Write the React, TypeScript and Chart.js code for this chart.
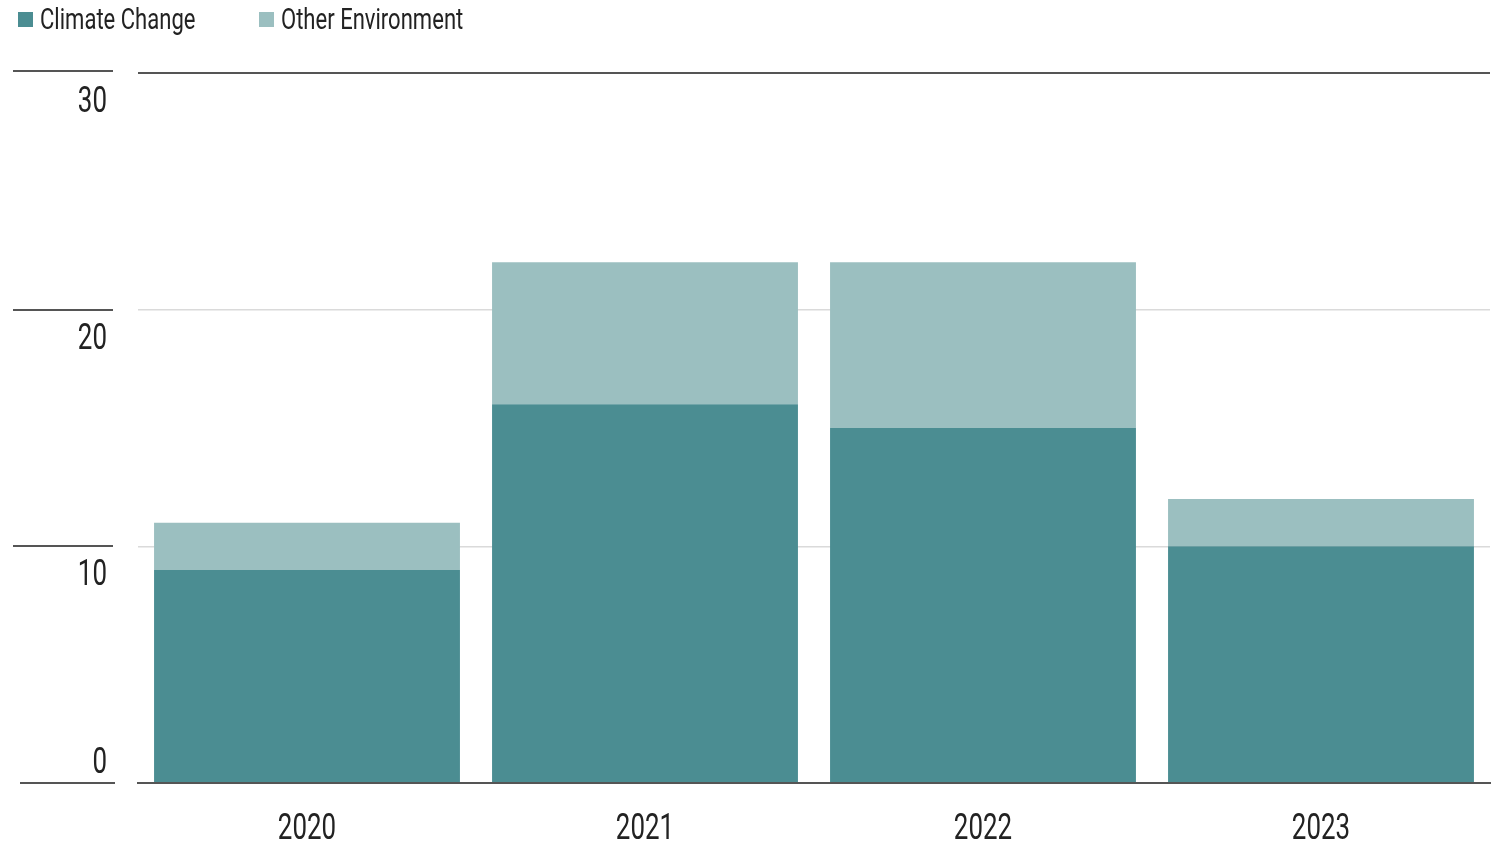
import React, { useEffect, useRef } from "react";
import { Chart, registerables } from "chart.js";

Chart.register(...registerables);

const categories = ["2020", "2021", "2022", "2023"];
const climateChange = [9, 16, 15, 10];
const otherEnvironment = [2, 6, 7, 2];
const yTicks = [0, 10, 20, 30];
const seriesNames = ["Climate Change", "Other Environment"];

const FONT = 'Roboto, "DejaVu Sans Condensed", sans-serif';
const DARK = "#4b8d92";
const LIGHT = "#9bbfc0";
const TEXT = "#222222";
const AXIS = "#555555";
const GRID = "#dadada";
const SQUEEZE = 0.72;

function squeezedText(
  ctx: CanvasRenderingContext2D,
  text: string,
  x: number,
  y: number,
  align: CanvasTextAlign,
  size: number,
  sx: number
) {
  ctx.save();
  ctx.translate(x, y);
  ctx.scale(sx, 1);
  ctx.font = `${size}px ${FONT}`;
  ctx.textAlign = align;
  ctx.textBaseline = "alphabetic";
  ctx.fillStyle = TEXT;
  ctx.fillText(text, 0, 0);
  ctx.restore();
}

const textPlugin = {
  id: "textDecor",
  afterDraw(chart: any) {
    const ctx = chart.ctx as CanvasRenderingContext2D;
    const y = chart.scales.y;
    const x = chart.scales.x;
    ctx.save();
    ctx.strokeStyle = AXIS;
    ctx.lineWidth = 2;
    for (const v of yTicks) {
      const py = Math.round(y.getPixelForValue(v));
      const x0 = v === 0 ? 20 : 13;
      const x1 = v === 0 ? 115 : 113;
      const ly = v === 30 ? py - 2 : py;
      ctx.beginPath();
      ctx.moveTo(x0, ly);
      ctx.lineTo(x1, ly);
      ctx.stroke();
      squeezedText(ctx, String(v), 107, py + (v === 0 ? -10 : 39), "right", 36, SQUEEZE);
    }
    categories.forEach((c, i) => {
      const px = x.getPixelForValue(i);
      squeezedText(ctx, c, px, 839, "center", 36, SQUEEZE);
    });
    // legend
    const ds = chart.data.datasets;
    const legendX = [18, 259];
    ds.forEach((d: any, i: number) => {
      const lx = legendX[i];
      ctx.fillStyle = d.backgroundColor;
      ctx.fillRect(lx, 12, 15, 15);
      squeezedText(ctx, seriesNames[i], lx + 22, 29, "left", 29, 0.76);
    });
    ctx.restore();
  },
};

export default function App() {
  const canvasRef = useRef<HTMLCanvasElement | null>(null);

  useEffect(() => {
    document.body.style.margin = "0";
    const canvas = canvasRef.current;
    if (!canvas) return;
    const chart = new Chart(canvas, {
      type: "bar",
      data: {
        labels: categories,
        datasets: [
          {
            label: seriesNames[0],
            data: climateChange,
            backgroundColor: DARK,
            borderWidth: 0,
            barPercentage: 1,
            categoryPercentage: 0.905,
          },
          {
            label: seriesNames[1],
            data: otherEnvironment,
            backgroundColor: LIGHT,
            borderWidth: 0,
            barPercentage: 1,
            categoryPercentage: 0.905,
          },
        ],
      },
      options: {
        responsive: false,
        animation: false,
        layout: { padding: { top: 73, right: 3, left: 0, bottom: 0 } },
        plugins: {
          legend: { display: false },
          tooltip: { enabled: false },
        },
        scales: {
          x: {
            stacked: true,
            grid: { display: false, drawTicks: false },
            border: { display: true, color: AXIS, width: 2 },
            ticks: { display: false },
            afterFit: (scale: any) => {
              scale.height = 62;
            },
          },
          y: {
            stacked: true,
            min: 0,
            max: 30,
            ticks: { display: false, stepSize: 10 },
            border: { display: false },
            grid: {
              drawTicks: false,
              color: (c: any) =>
                c.tick && (c.tick.value === 30 || c.tick.value === 0) ? AXIS : GRID,
              lineWidth: (c: any) =>
                c.tick && (c.tick.value === 30 || c.tick.value === 0) ? 2 : 1.5,
            },
            afterFit: (scale: any) => {
              scale.width = 138;
            },
          },
        },
      },
      plugins: [textPlugin],
    });
    return () => chart.destroy();
  }, []);

  return (
    <div style={{ position: "absolute", left: 0, top: 0, width: 1493, height: 845 }}>
      <canvas ref={canvasRef} width={1493} height={845} style={{ display: "block" }} />
    </div>
  );
}
